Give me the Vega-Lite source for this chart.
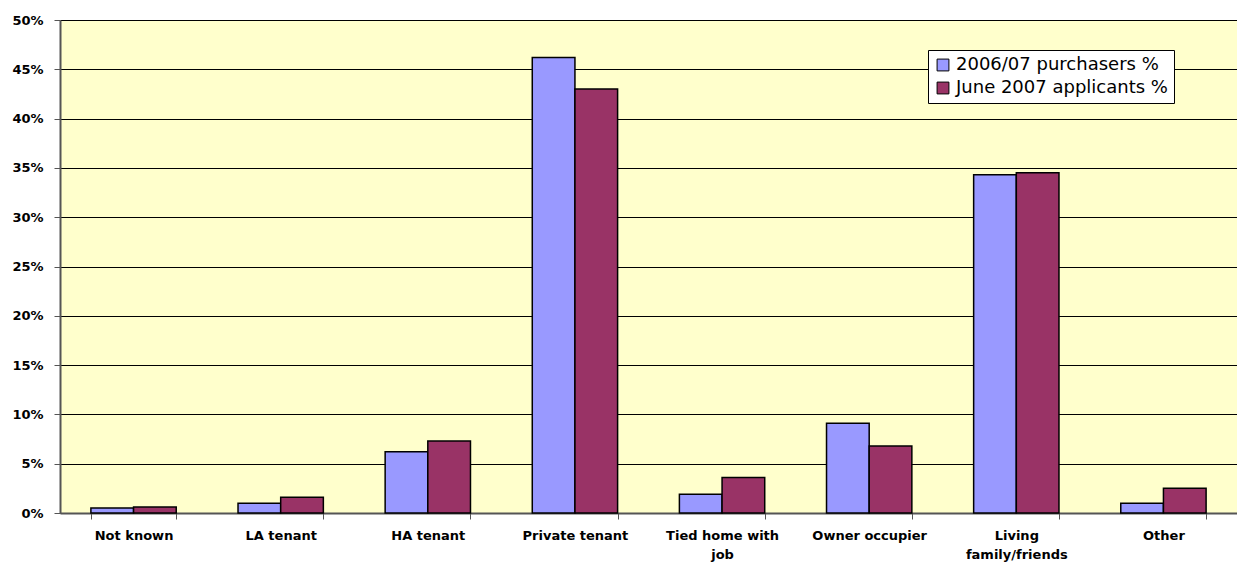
{
  "$schema": "https://vega.github.io/schema/vega-lite/v6.json",
  "width": 1177,
  "height": 493,
  "autosize": {"type": "none"},
  "padding": {"left": 60, "top": 20, "right": 0, "bottom": 50},
  "background": "#FFFFFF",
  "config": {
    "view": {"fill": "#FFFFCC", "stroke": null},
    "font": "DejaVu Sans"
  },
  "data": {
    "values": [
      {"category": "Not known", "series": "2006/07 purchasers %", "value": 0.5},
      {"category": "Not known", "series": "June 2007 applicants %", "value": 0.6},
      {"category": "LA tenant", "series": "2006/07 purchasers %", "value": 1.0},
      {"category": "LA tenant", "series": "June 2007 applicants %", "value": 1.6},
      {"category": "HA tenant", "series": "2006/07 purchasers %", "value": 6.2},
      {"category": "HA tenant", "series": "June 2007 applicants %", "value": 7.3},
      {"category": "Private tenant", "series": "2006/07 purchasers %", "value": 46.2},
      {"category": "Private tenant", "series": "June 2007 applicants %", "value": 43.0},
      {"category": "Tied home with|job", "series": "2006/07 purchasers %", "value": 1.9},
      {"category": "Tied home with|job", "series": "June 2007 applicants %", "value": 3.6},
      {"category": "Owner occupier", "series": "2006/07 purchasers %", "value": 9.1},
      {"category": "Owner occupier", "series": "June 2007 applicants %", "value": 6.8},
      {"category": "Living|family/friends", "series": "2006/07 purchasers %", "value": 34.3},
      {"category": "Living|family/friends", "series": "June 2007 applicants %", "value": 34.5},
      {"category": "Other", "series": "2006/07 purchasers %", "value": 1.0},
      {"category": "Other", "series": "June 2007 applicants %", "value": 2.5}
    ]
  },
  "mark": {"type": "bar", "stroke": "#000000", "strokeWidth": 1.5},
  "encoding": {
    "x": {
      "field": "category",
      "type": "nominal",
      "sort": null,
      "title": null,
      "scale": {"paddingInner": 0.42, "paddingOuter": 0.21},
      "axis": {
        "labelAngle": 0,
        "labelExpr": "split(datum.label, '|')",
        "labelFont": "DejaVu Sans",
        "labelFontWeight": "bold",
        "labelFontSize": 13,
        "labelColor": "#000000",
        "labelPadding": 10,
        "labelLineHeight": 19,
        "labelLimit": 200,
        "tickBand": "extent",
        "tickColor": "#555555",
        "tickSize": 6,
        "domainColor": "#555555",
        "domainWidth": 2
      }
    },
    "xOffset": {"field": "series", "type": "nominal", "sort": null},
    "y": {
      "field": "value",
      "type": "quantitative",
      "title": null,
      "scale": {"domain": [0, 50], "nice": false},
      "axis": {
        "values": [0, 5, 10, 15, 20, 25, 30, 35, 40, 45, 50],
        "labelExpr": "datum.value + '%'",
        "labelFont": "DejaVu Sans",
        "labelFontWeight": "bold",
        "labelFontSize": 13,
        "labelColor": "#000000",
        "labelPadding": 11,
        "tickColor": "#555555",
        "tickSize": 6,
        "domainColor": "#555555",
        "domainWidth": 2,
        "grid": true,
        "gridColor": "#000000",
        "gridWidth": 1
      }
    },
    "color": {
      "field": "series",
      "type": "nominal",
      "sort": null,
      "scale": {
        "domain": ["2006/07 purchasers %", "June 2007 applicants %"],
        "range": ["#9999FF", "#993366"]
      },
      "legend": {
        "title": null,
        "orient": "none",
        "legendX": 868,
        "legendY": 30,
        "fillColor": "#FFFFFF",
        "strokeColor": "#000000",
        "padding": 6,
        "symbolType": "square",
        "symbolSize": 140,
        "symbolStrokeColor": "#000000",
        "symbolStrokeWidth": 1,
        "symbolOpacity": 1,
        "labelFont": "DejaVu Sans",
        "labelFontSize": 18,
        "labelColor": "#000000",
        "labelOffset": 4,
        "labelLimit": 300,
        "rowPadding": 5
      }
    }
  }
}
